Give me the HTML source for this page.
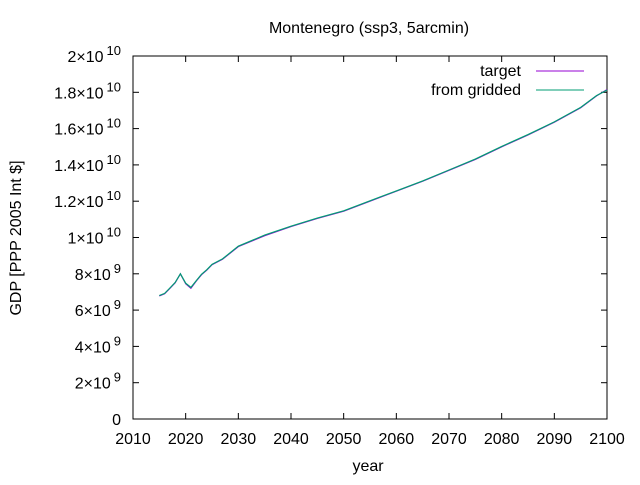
<!DOCTYPE html>
<html><head><meta charset="utf-8"><style>
body{margin:0;background:#fff;}
svg text{font-family:"Liberation Sans",sans-serif;font-size:16px;fill:#000;}
</style></head><body>
<svg id="chart" width="640" height="480" xmlns="http://www.w3.org/2000/svg"></svg>
<script>
const years=[2015,2016,2017,2018,2019,2020,2021,2022,2023,2024,2025,2027,2030,2035,2040,2045,2050,2055,2060,2065,2070,2075,2080,2085,2090,2095,2098,2100];
const target=[6.78,6.9,7.2,7.5,8.0,7.45,7.2,7.6,7.95,8.2,8.5,8.8,9.5,10.1,10.6,11.05,11.45,12.0,12.55,13.1,13.7,14.3,15.0,15.65,16.35,17.15,17.8,18.15];
const gridded=[6.8,6.92,7.22,7.52,8.0,7.48,7.25,7.62,7.97,8.22,8.52,8.82,9.52,10.13,10.62,11.07,11.47,12.02,12.57,13.12,13.72,14.32,15.02,15.67,16.37,17.17,17.82,18.12];
const xTicks=[2010,2020,2030,2040,2050,2060,2070,2080,2090,2100];
const yTicks=[0,2,4,6,8,10,12,14,16,18,20];
const yLabels=["0","2×10^9","4×10^9","6×10^9","8×10^9","1×10^10","1.2×10^10","1.4×10^10","1.6×10^10","1.8×10^10","2×10^10"];
const L=133,R=607,T=56,B=419;
const X=v=>L+(v-2010)/90*(R-L);
const Y=v=>B-v/20*(B-T);
const svg=document.getElementById('chart');
const NS="http://www.w3.org/2000/svg";
function mk(tag,attrs,parent){const e=document.createElementNS(NS,tag);for(const k in attrs)e.setAttribute(k,attrs[k]);(parent||svg).appendChild(e);return e;}
const frame=mk('rect',{x:L,y:T,width:R-L,height:B-T,fill:'none',stroke:'#000','stroke-width':1});


xTicks.forEach(t=>{
  const x=X(t);
  mk('line',{x1:x,y1:B,x2:x,y2:B-6,stroke:'#000'});
  mk('line',{x1:x,y1:T,x2:x,y2:T+6,stroke:'#000'});
  const tx=mk('text',{x:x,y:B+25,'text-anchor':'middle'});
  tx.textContent=t;
  
  
});
yTicks.forEach((t,i)=>{
  const y=Y(t);
  mk('line',{x1:L,y1:y,x2:L+6,y2:y,stroke:'#000'});
  mk('line',{x1:R,y1:y,x2:R-6,y2:y,stroke:'#000'});
  const tx=mk('text',{x:L-12,y:y+6,'text-anchor':'end'});
  const parts=yLabels[i].split('^');
  if(parts.length>1){
    const a=mk('tspan',{},tx);a.textContent=parts[0];
    const b=mk('tspan',{dy:-7,dx:3,'font-size':'13px'},tx);b.textContent=parts[1];
  } else tx.textContent=parts[0];
  
  
});
function line(vals,color,name){
  const d=years.map((yr,i)=>(i?'L':'M')+X(yr).toFixed(1)+','+Y(vals[i]).toFixed(1)).join('');
  const p=mk('path',{d:d,fill:'none',stroke:color,'stroke-width':1.2});
  
  
}
line(target,'#9400d3','target-line');
line(gridded,'#009e73','gridded-line');
const t1=mk('text',{x:521,y:76,'text-anchor':'end'});t1.textContent='target';

mk('line',{x1:536,y1:71,x2:584,y2:71,stroke:'#9400d3'});
const t2=mk('text',{x:521,y:95,'text-anchor':'end'});t2.textContent='from gridded';

mk('line',{x1:536,y1:90,x2:584,y2:90,stroke:'#009e73'});
const ti=mk('text',{x:369,y:33,'text-anchor':'middle'});ti.textContent='Montenegro (ssp3, 5arcmin)';

const xt=mk('text',{x:368,y:471,'text-anchor':'middle'});xt.textContent='year';

const yt=mk('text',{x:21,y:238,'text-anchor':'middle',transform:'rotate(-90 21 238)'});yt.textContent='GDP [PPP 2005 Int $]';

</script>
</body></html>
